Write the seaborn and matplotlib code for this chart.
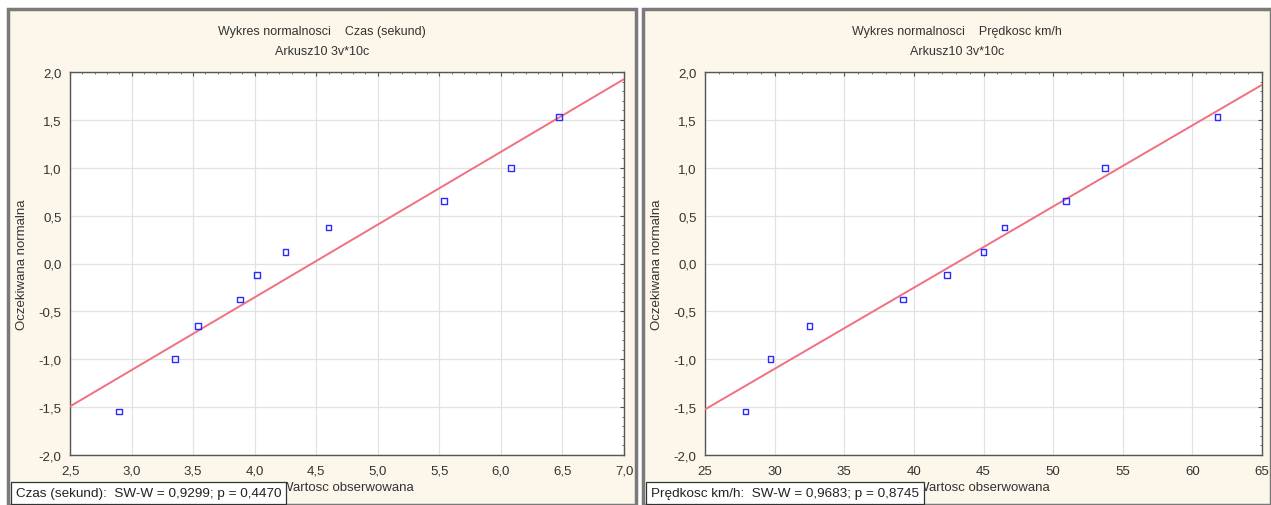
import numpy as np
import pandas as pd
import matplotlib
matplotlib.use("Agg")
import matplotlib.pyplot as plt
from matplotlib.patches import Rectangle
from matplotlib.ticker import MultipleLocator
import seaborn as sns

# expected normal scores (same for both variables, n = 10)
expected = [-1.547, -1.000, -0.655, -0.375, -0.123, 0.123, 0.375, 0.655, 1.000, 1.530]

czas = [2.90, 3.35, 3.54, 3.88, 4.02, 4.25, 4.60, 5.54, 6.08, 6.47]
predkosc = [27.9, 29.7, 32.5, 39.2, 42.4, 45.0, 46.5, 50.9, 53.7, 61.8]

czas_ticks = [2.5, 3.0, 3.5, 4.0, 4.5, 5.0, 5.5, 6.0, 6.5, 7.0]
czas_labels = ["2,5", "3,0", "3,5", "4,0", "4,5", "5,0", "5,5", "6,0", "6,5", "7,0"]
pred_ticks = [25, 30, 35, 40, 45, 50, 55, 60, 65]
pred_labels = ["25", "30", "35", "40", "45", "50", "55", "60", "65"]
y_ticks = [-2.0, -1.5, -1.0, -0.5, 0.0, 0.5, 1.0, 1.5, 2.0]
y_labels = ["-2,0", "-1,5", "-1,0", "-0,5", "0,0", "0,5", "1,0", "1,5", "2,0"]

titles = ["Wykres normalnosci    Czas (sekund)", "Wykres normalnosci    Prędkosc km/h"]
subtitle = "Arkusz10 3v*10c"
stats = ["Czas (sekund):  SW-W = 0,9299; p = 0,4470",
         "Prędkosc km/h:  SW-W = 0,9683; p = 0,8745"]

sns.set_style("white")
plt.rcParams["font.family"] = ["Liberation Sans", "DejaVu Sans"]

W, H = 1271, 506
fig = plt.figure(figsize=(W / 100, H / 100), dpi=100)
fig.patch.set_facecolor("white")

cream = "#fcf7ea"
panels = [(8, 636), (643, 1271)]
for x0, x1 in panels:
    fig.patches.append(Rectangle((x0 / W, 0), (x1 - x0) / W, 1 - 10 / H,
                                 transform=fig.transFigure, facecolor=cream,
                                 edgecolor="#7a7a7a", linewidth=2.5, zorder=-5))

axes_pos = [(70, 624), (705, 1262)]
datasets = [(czas, czas_ticks, czas_labels), (predkosc, pred_ticks, pred_labels)]

for i, ((ax0, ax1), (xs, xt, xl)) in enumerate(zip(axes_pos, datasets)):
    ax = fig.add_axes([ax0 / W, 1 - 456 / H, (ax1 - ax0) / W, (456 - 73) / H])
    ax.set_facecolor("white")
    df = pd.DataFrame({"x": xs, "y": expected})
    ax.set_xlim(xt[0], xt[-1])
    ax.set_ylim(-2.0, 2.0)
    sns.regplot(data=df, x="x", y="y", ax=ax, scatter=False, ci=None, truncate=False,
                line_kws={"color": "#f07080", "linewidth": 1.4, "zorder": 3})
    sns.scatterplot(data=df, x="x", y="y", ax=ax, marker="s", s=17,
                    facecolor="none", edgecolor="#2b2bff", linewidth=1.0, zorder=4)
    ax.set_xlim(xt[0], xt[-1])
    ax.set_ylim(-2.0, 2.0)
    ax.set_xticks(xt)
    ax.set_xticklabels(xl)
    ax.set_yticks(y_ticks)
    ax.set_yticklabels(y_labels)
    ax.xaxis.set_minor_locator(MultipleLocator((xt[1] - xt[0]) / 5))
    ax.yaxis.set_minor_locator(MultipleLocator(0.1))
    ax.grid(True, which="major", color="#e2e2e2", linewidth=0.9)
    ax.set_axisbelow(True)
    ax.tick_params(which="both", direction="in", top=True, right=True,
                   colors="#555555", labelcolor="#333333", labelsize=9.5)
    ax.tick_params(which="major", length=3, pad=6)
    ax.tick_params(axis="x", which="major", pad=7)
    ax.tick_params(which="minor", length=1.5)
    for s in ax.spines.values():
        s.set_color("#555555")
        s.set_linewidth(1.0)
    ax.set_ylabel("Oczekiwana normalna", fontsize=9.5, color="#333333", labelpad=8)
    ax.set_xlabel("Wartosc obserwowana", fontsize=9.5, color="#333333", labelpad=3)

    px0, px1 = panels[i]
    cx = (px0 + px1) / 2 / W
    fig.text(cx, 1 - 32 / H, titles[i], ha="center", va="center", fontsize=9, color="#333333")
    fig.text(cx, 1 - 52 / H, subtitle, ha="center", va="center", fontsize=9, color="#333333")
    fig.text((px0 + 8) / W, 1 - 494 / H, stats[i], ha="left", va="center", fontsize=9.7,
             color="#222222", zorder=10,
             bbox=dict(boxstyle="square,pad=0.35", facecolor="white", edgecolor="#333333",
                       linewidth=0.9))

fig.savefig("out.png", dpi=100)
